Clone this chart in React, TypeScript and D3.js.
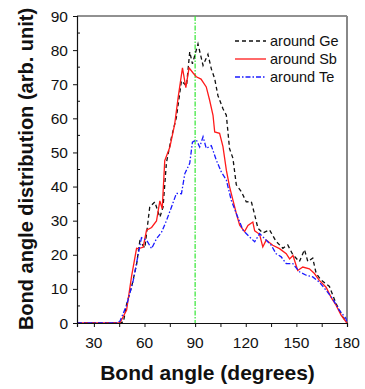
import React, { useEffect, useRef } from "react";
import * as d3 from "d3";

// bond angle (degrees) / distribution (arb. unit)
const geAngles = [20, 30, 40, 45, 47.5, 49.4, 52.3, 55.3, 57.2, 60.2, 63.1, 66.1, 69.1, 71, 73, 76, 78.9, 81.9, 84.9, 86.8, 88.4, 91.7, 94.7, 97.6, 99.6, 101.6, 103.5, 106.5, 108.5, 110.4, 112.4, 114.4, 117.4, 120.3, 123.3, 125.3, 127.2, 130.1, 134.1, 138, 142, 144.9, 147.9, 151.8, 154.8, 156.8, 159.7, 161.7, 164.6, 169.6, 173.5, 177.5, 180];
const geValues = [0, 0, 0, 0, 0.3, 5.5, 10.5, 17.1, 24, 22, 34, 35.5, 31, 34, 47, 54.5, 60.3, 71, 69.5, 79.5, 76, 81.8, 75.5, 78.8, 74.5, 71.6, 66.7, 62.8, 60.9, 51.1, 48.3, 40.5, 38.5, 35.5, 35.6, 31.7, 27.8, 26.4, 27.3, 23.9, 21.9, 22.9, 20, 18, 21.5, 18, 19, 14.6, 12.6, 10.7, 5.7, 1.8, 0];

const sbAngles = [20, 30, 40, 45.4, 49.4, 52.3, 55.3, 56.3, 59.2, 61.2, 64.2, 67.1, 69.1, 70.5, 72, 75, 77.9, 79.9, 82.5, 84.5, 86.4, 88.8, 90.7, 93.5, 96.6, 98.6, 100.6, 101.6, 104.5, 106.5, 108.5, 110.4, 112.4, 114.4, 116.4, 119.3, 121.3, 124.2, 125.3, 128.2, 130.1, 132.1, 136, 140, 144, 146, 148, 150.8, 153.8, 157.7, 160.7, 163.6, 167.6, 170.5, 173.5, 176.5, 180];
const sbValues = [0, 0, 0, 0, 3.8, 13.6, 21.9, 21.8, 22.2, 27.2, 28, 29.9, 35.8, 33.5, 47.6, 51.5, 58.3, 66, 74.8, 69, 74.8, 73.3, 72.2, 71.5, 69.2, 65.3, 60.9, 56, 55.6, 51.7, 44.8, 40, 36, 32.1, 28.7, 26.8, 28.6, 29.6, 27, 26, 22.3, 24.3, 22.8, 21.8, 20.3, 18.8, 19.8, 15.4, 16.4, 15.9, 14.5, 12.5, 10.5, 7.6, 5.2, 2.3, 0];

const teAngles = [20, 30, 40, 44, 45.5, 49.4, 53.3, 56.3, 58.2, 61.2, 64.2, 67.1, 70.1, 73, 76, 78.9, 81.9, 83.9, 86.8, 88.4, 90.7, 92.7, 94.7, 96.6, 99.6, 102.5, 105.5, 108.5, 111.4, 114.4, 118.4, 122.3, 125.3, 128.2, 132.1, 135.1, 138, 141, 144, 147.9, 151.8, 155.8, 159.7, 163.6, 167.6, 171.5, 175.5, 179.4, 180];
const teValues = [0, 0, 0, 0, 0.6, 5.2, 12.4, 20.2, 25, 24.3, 21.8, 24.7, 26.6, 30, 34, 38, 37.9, 43.8, 46.8, 53, 53.7, 51.6, 54.6, 51.2, 52, 47.8, 44.3, 41.9, 36, 32.1, 27.2, 25.2, 23.8, 26.2, 24.3, 22.8, 20.3, 19.4, 17.4, 17.4, 15, 14, 13.5, 12, 9.6, 7.1, 3.7, 1.3, 0];

const seriesNames = ["around Ge", "around Sb", "around Te"];
const xTicks = [30, 60, 90, 120, 150, 180];
const yTicks = [0, 10, 20, 30, 40, 50, 60, 70, 80, 90];

const App = () => {
  const ref = useRef<SVGSVGElement>(null);

  useEffect(() => {
    const width = 365;
    const height = 389;
    const left = 77;
    const right = 347;
    const top = 16;
    const bottom = 323;
    const font = "Arial, 'Liberation Sans', sans-serif";

    const svg = d3.select(ref.current);
    svg.selectAll("*").remove();

    const x = d3.scaleLinear().domain([20, 180]).range([left, right]);
    const y = d3.scaleLinear().domain([0, 90]).range([bottom, top]);

    // frame: black top, grey right
    svg.append("line")
      .attr("x1", left).attr("x2", right).attr("y1", top).attr("y2", top)
      .attr("stroke", "#222").attr("stroke-width", 1);
    svg.append("line")
      .attr("x1", right).attr("x2", right).attr("y1", top).attr("y2", bottom)
      .attr("stroke", "#888").attr("stroke-width", 2);

    // green reference line at 90 degrees
    svg.append("line")
      .attr("x1", x(90)).attr("x2", x(90)).attr("y1", top).attr("y2", bottom)
      .attr("stroke", "#33e633").attr("stroke-width", 1.2)
      .attr("stroke-dasharray", "5,1.5,1.5,1.5");

    const line = d3.line<[number, number]>()
      .x((d) => x(d[0]))
      .y((d) => y(d[1]));

    const series = [
      { angles: geAngles, values: geValues, color: "#111", dash: "4,3", w: 1.3 },
      { angles: sbAngles, values: sbValues, color: "#ff1a1a", dash: null, w: 1.3 },
      { angles: teAngles, values: teValues, color: "#1a1aff", dash: "5,2,1.5,2", w: 1.3 },
    ];

    const plot = svg.append("g");
    series.forEach((s) => {
      const pts = s.angles.map((a, i) => [a, s.values[i]] as [number, number]);
      plot.append("path")
        .attr("d", line(pts))
        .attr("fill", "none")
        .attr("stroke", s.color)
        .attr("stroke-width", s.w)
        .attr("stroke-dasharray", s.dash);
    });

    // x axis
    const gx = svg.append("g").attr("transform", `translate(0,${bottom})`);
    gx.call(d3.axisBottom(x).tickValues(d3.range(30, 181, 15)).tickSize(4).tickFormat(() => ""))
      .call((g) => g.select(".domain").attr("stroke", "#111").attr("stroke-width", 1.2));
    gx.selectAll(".tick line").attr("stroke", "#111");
    gx.selectAll("text.lbl")
      .data(xTicks)
      .join("text")
      .attr("class", "lbl")
      .attr("x", (d) => x(d))
      .attr("y", 25)
      .attr("text-anchor", "middle")
      .attr("font-family", font)
      .attr("font-size", 15.5)
      .attr("fill", "#111")
      .text((d) => d);

    // y axis
    const gy = svg.append("g").attr("transform", `translate(${left},0)`);
    gy.call(d3.axisLeft(y).tickValues(yTicks).tickSize(4).tickFormat(() => ""))
      .call((g) => g.select(".domain").attr("stroke", "#111").attr("stroke-width", 1.2));
    gy.selectAll(".tick line").attr("stroke", "#111");
    gy.selectAll("line.minor")
      .data(d3.range(5, 90, 10))
      .join("line")
      .attr("class", "minor")
      .attr("x1", 0).attr("x2", 3)
      .attr("y1", (d) => y(d)).attr("y2", (d) => y(d))
      .attr("stroke", "#111");
    gy.selectAll("text.lbl")
      .data(yTicks)
      .join("text")
      .attr("class", "lbl")
      .attr("x", -9)
      .attr("y", (d) => y(d))
      .attr("dy", "0.36em")
      .attr("text-anchor", "end")
      .attr("font-family", font)
      .attr("font-size", 15.5)
      .attr("fill", "#111")
      .text((d) => d);

    // axis titles
    svg.append("text")
      .attr("x", 207.5)
      .attr("y", 380)
      .attr("text-anchor", "middle")
      .attr("font-family", font)
      .attr("font-weight", "bold")
      .attr("font-size", 21)
      .attr("fill", "#111")
      .text("Bond angle (degrees)");
    svg.append("text")
      .attr("transform", "translate(33,169) rotate(-90)")
      .attr("text-anchor", "middle")
      .attr("font-family", font)
      .attr("font-weight", "bold")
      .attr("font-size", 20)
      .attr("fill", "#111")
      .text("Bond angle distribution (arb. unit)");

    // legend
    const legend = svg.append("g");
    series.forEach((s, i) => {
      const ly = 41 + i * 18;
      legend.append("line")
        .attr("x1", 235).attr("x2", 266).attr("y1", ly).attr("y2", ly)
        .attr("stroke", s.color)
        .attr("stroke-width", s.w)
        .attr("stroke-dasharray", s.dash);
      legend.append("text")
        .attr("x", 270)
        .attr("y", ly)
        .attr("dy", "0.36em")
        .attr("font-family", font)
        .attr("font-size", 14.5)
        .attr("fill", "#111")
        .text(seriesNames[i]);
    });
  }, []);

  return (
    <svg
      ref={ref}
      width={365}
      height={389}
      style={{ position: "absolute", left: 0, top: 0, background: "#fff" }}
    />
  );
};

export default App;
